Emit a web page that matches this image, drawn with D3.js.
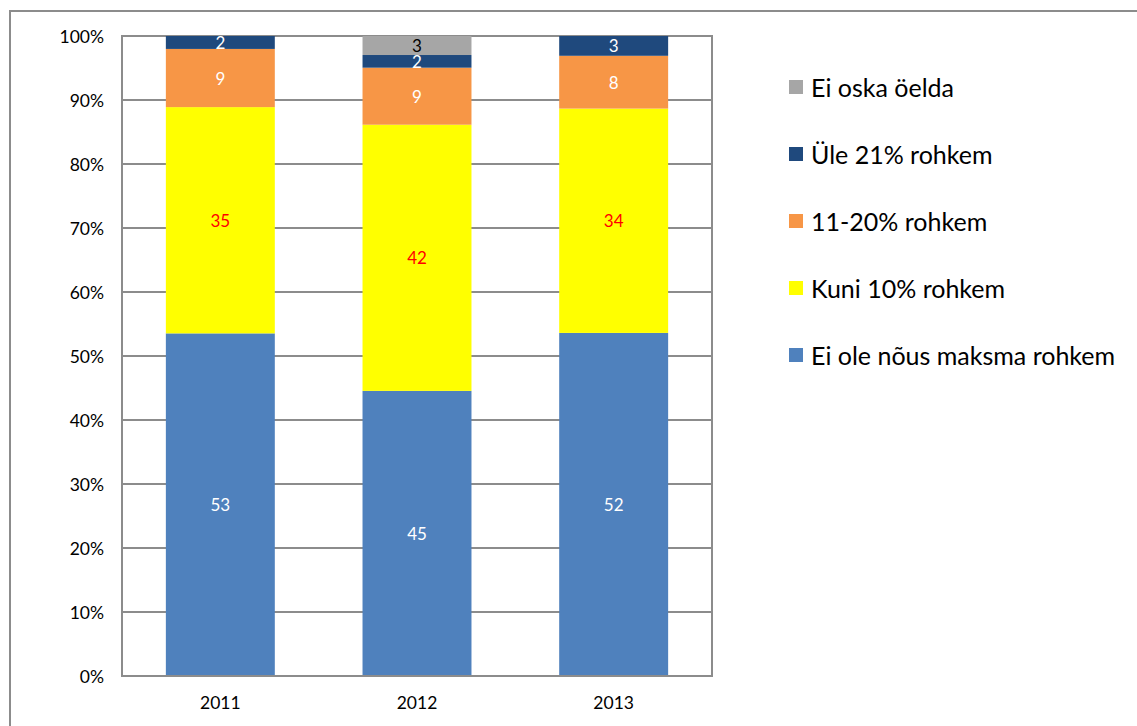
<!DOCTYPE html>
<html>
<head>
<meta charset="utf-8">
<script src="https://cdn.jsdelivr.net/npm/d3@7"></script>
<style>
  body { margin: 0; background: #fff; }
  svg { display: block; font-family: Lato, "Open Sans", sans-serif; }
</style>
</head>
<body>
<div id="chart"></div>
<script>
// survey answers per year, in percent (stacked, normalised to 100%)
var years = ['2011', '2012', '2013']
var seriesNames = ['Ei ole nõus maksma rohkem', 'Kuni 10% rohkem', '11-20% rohkem', 'Üle 21% rohkem', 'Ei oska öelda']
var eiOle = [53, 45, 52]
var kuni10 = [35, 42, 34]
var r11to20 = [9, 9, 8]
var yle21 = [2, 2, 3]
var eiOska = [0, 3, 0]
var yTicks = [0, 0.1, 0.2, 0.3, 0.4, 0.5, 0.6, 0.7, 0.8, 0.9, 1]

var colors = ['#4f81bd', '#ffff00', '#f79646', '#1f497d', '#a6a6a6']
var labelColors = ['#ffffff', '#ff0000', '#ffffff', '#ffffff', '#000000']

var W = 1137, H = 726
var plotL = 122, plotR = 712, plotT = 36, plotB = 676
var gridColor = '#8c8c8c'

var rows = years.map(function (y, i) {
    return { year: y, s0: eiOle[i], s1: kuni10[i], s2: r11to20[i], s3: yle21[i], s4: eiOska[i] }
})
var keys = ['s0', 's1', 's2', 's3', 's4']
var stacked = d3.stack().keys(keys).offset(d3.stackOffsetExpand)(rows)

var svg = d3.select('#chart').append('svg')
    .attr('width', W)
    .attr('height', H)

// outer chart frame
svg.append('rect')
    .attr('x', 10).attr('y', 11)
    .attr('width', W + 20).attr('height', H + 20)
    .attr('fill', 'none')
    .attr('stroke', gridColor)
    .attr('stroke-width', 2)

var x = d3.scaleBand().domain(years).range([plotL, plotR])
    .paddingInner(0.446).paddingOuter(0.223)
var y = d3.scaleLinear().domain([0, 1]).range([plotB, plotT])

// gridlines
svg.append('g').selectAll('line')
    .data(yTicks)
    .join('line')
    .attr('x1', plotL).attr('x2', plotR)
    .attr('y1', function (d) { return y(d) }).attr('y2', function (d) { return y(d) })
    .attr('stroke', gridColor)
    .attr('stroke-width', 2)

// plot border sides
svg.append('line').attr('x1', plotL).attr('x2', plotL).attr('y1', plotT - 1).attr('y2', plotB + 1)
    .attr('stroke', gridColor).attr('stroke-width', 2)
svg.append('line').attr('x1', plotR).attr('x2', plotR).attr('y1', plotT - 1).attr('y2', plotB + 1)
    .attr('stroke', gridColor).attr('stroke-width', 2)

// bars
var groups = svg.append('g').selectAll('g')
    .data(stacked)
    .join('g')
    .attr('fill', function (d, i) { return colors[i] })

groups.selectAll('rect')
    .data(function (d) { return d })
    .join('rect')
    .attr('x', function (d) { return x(d.data.year) })
    .attr('width', x.bandwidth())
    .attr('y', function (d) { return y(d[1]) })
    .attr('height', function (d) { return y(d[0]) - y(d[1]) })

// value labels
stacked.forEach(function (layer, i) {
    svg.append('g').selectAll('text')
        .data(layer.filter(function (d) { return d.data[layer.key] > 0 }))
        .join('text')
        .attr('x', function (d) { return x(d.data.year) + x.bandwidth() / 2 })
        .attr('y', function (d) { return (y(d[0]) + y(d[1])) / 2 })
        .attr('text-anchor', 'middle')
        .attr('dominant-baseline', 'central')
        .attr('font-size', 17)
        .attr('fill', labelColors[i])
        .text(function (d) { return d.data[layer.key] })
})

// bottom axis line
svg.append('line').attr('x1', plotL).attr('x2', plotR).attr('y1', plotB).attr('y2', plotB)
    .attr('stroke', gridColor).attr('stroke-width', 2)

// y tick labels
svg.append('g').selectAll('text')
    .data(yTicks)
    .join('text')
    .attr('x', 104)
    .attr('y', function (d) { return y(d) })
    .attr('text-anchor', 'end')
    .attr('dominant-baseline', 'central')
    .attr('font-size', 17.5)
    .attr('fill', '#000')
    .text(d3.format('.0%'))

// x labels
svg.append('g').selectAll('text')
    .data(years)
    .join('text')
    .attr('x', function (d) { return x(d) + x.bandwidth() / 2 })
    .attr('y', 702)
    .attr('text-anchor', 'middle')
    .attr('dominant-baseline', 'central')
    .attr('font-size', 17.5)
    .attr('fill', '#000')
    .text(function (d) { return d })

// legend, reversed order like the stack
var legendItems = seriesNames.map(function (n, i) { return { name: n, color: colors[i] } }).reverse()
var legend = svg.append('g').selectAll('g')
    .data(legendItems)
    .join('g')
    .attr('transform', function (d, i) { return 'translate(789,' + (87 + i * 67) + ')' })

legend.append('rect')
    .attr('x', 0).attr('y', -7)
    .attr('width', 14).attr('height', 14)
    .attr('fill', function (d) { return d.color })

legend.append('text')
    .attr('x', 22)
    .attr('y', 0)
    .attr('dominant-baseline', 'central')
    .attr('font-size', 25)
    .attr('fill', '#000')
    .text(function (d) { return d.name })
</script>
</body>
</html>
